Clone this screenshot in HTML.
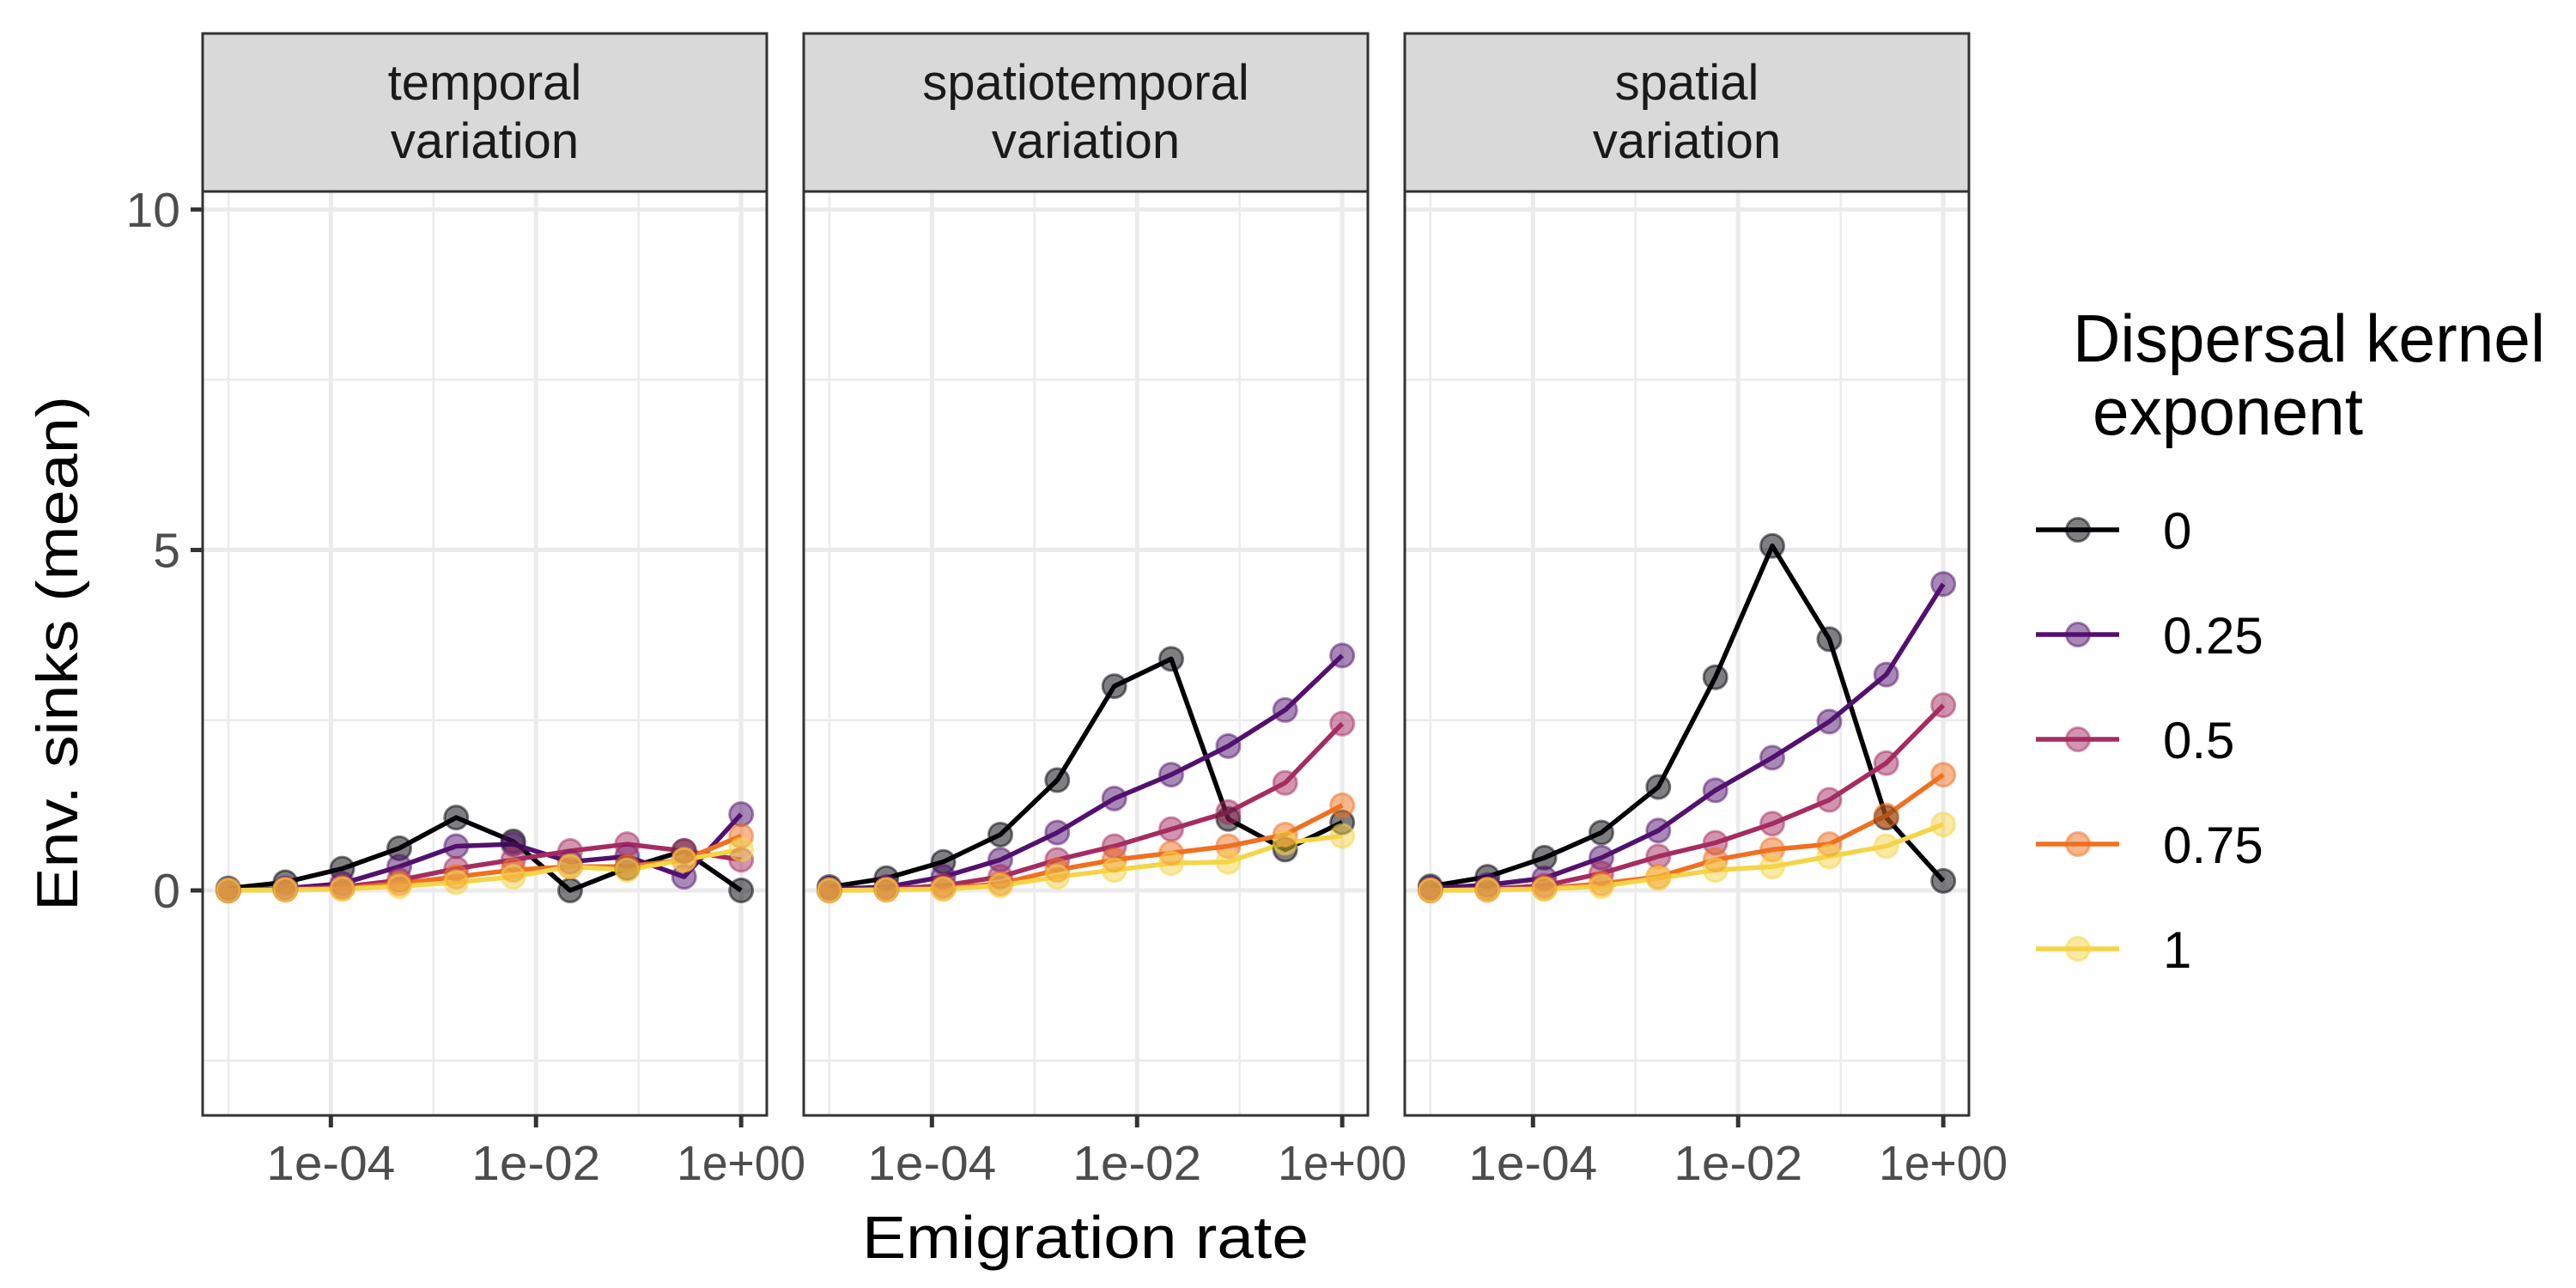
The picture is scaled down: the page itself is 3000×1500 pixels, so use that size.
<!DOCTYPE html>
<html><head><meta charset="utf-8"><style>
html,body{margin:0;padding:0;background:#fff;}
svg{display:block;font-family:"Liberation Sans",sans-serif;}
</style></head><body>
<svg id="chart" width="3000" height="1500" viewBox="0 0 3000 1500" xmlns="http://www.w3.org/2000/svg">
<rect width="3000" height="1500" fill="#fff"/>
<g id="panels"></g>
<text x="1264" y="1465" font-size="70" text-anchor="middle" textLength="520" lengthAdjust="spacingAndGlyphs" fill="#000">Emigration rate</text>
<text transform="translate(90,761) rotate(-90)" font-size="68" text-anchor="middle" textLength="600" lengthAdjust="spacingAndGlyphs" fill="#000">Env. sinks (mean)</text>
<g id="legend">
<text x="2414" y="421" font-size="78" textLength="550" lengthAdjust="spacingAndGlyphs" fill="#000">Dispersal kernel</text>
<text x="2437" y="506" font-size="78" textLength="315" lengthAdjust="spacingAndGlyphs" fill="#000">exponent</text>
</g>
</svg>
<script>
const NS = "http://www.w3.org/2000/svg";
const facets = ["temporal|variation", "spatiotemporal|variation", "spatial|variation"];
const seriesNames = ["0", "0.25", "0.5", "0.75", "1"];
const emigrationExp = [-5, -4.444, -3.889, -3.333, -2.778, -2.222, -1.667, -1.111, -0.556, 0];
const yTicks = [0, 5, 10];
const yMinor = [-2.5, 2.5, 7.5];
const xTickExp = [-4, -2, 0];
const xTickLabels = ["1e-04", "1e-02", "1e+00"];
const xMinorExp = [-5, -3, -1];
const temporal0 = [0.03, 0.12, 0.32, 0.62, 1.07, 0.72, 0.0, 0.33, 0.58, 0.0];
const temporal1 = [0, 0.03, 0.1, 0.35, 0.65, 0.68, 0.42, 0.5, 0.2, 1.12];
const temporal2 = [0, 0.02, 0.05, 0.15, 0.32, 0.45, 0.58, 0.68, 0.58, 0.45];
const temporal3 = [0, 0.01, 0.03, 0.1, 0.2, 0.3, 0.35, 0.35, 0.45, 0.8];
const temporal4 = [0, 0.01, 0.02, 0.06, 0.12, 0.2, 0.35, 0.3, 0.45, 0.6];
const spatiotemporal0 = [0.05, 0.18, 0.42, 0.82, 1.62, 3.0, 3.4, 1.05, 0.6, 1.0];
const spatiotemporal1 = [0.02, 0.05, 0.2, 0.45, 0.85, 1.35, 1.7, 2.12, 2.65, 3.45];
const spatiotemporal2 = [0, 0.02, 0.07, 0.2, 0.45, 0.65, 0.9, 1.15, 1.58, 2.45];
const spatiotemporal3 = [0, 0.01, 0.03, 0.1, 0.3, 0.45, 0.55, 0.65, 0.82, 1.25];
const spatiotemporal4 = [0, 0.01, 0.02, 0.07, 0.2, 0.3, 0.4, 0.42, 0.7, 0.8];
const spatial0 = [0.06, 0.2, 0.48, 0.85, 1.52, 3.13, 5.06, 3.69, 1.07, 0.14];
const spatial1 = [0.03, 0.08, 0.18, 0.48, 0.88, 1.47, 1.95, 2.48, 3.17, 4.5];
const spatial2 = [0, 0.02, 0.07, 0.25, 0.5, 0.7, 0.98, 1.33, 1.87, 2.72];
const spatial3 = [0, 0.01, 0.03, 0.1, 0.2, 0.45, 0.6, 0.68, 1.1, 1.7];
const spatial4 = [0, 0.01, 0.02, 0.06, 0.18, 0.3, 0.35, 0.5, 0.65, 0.97];
const facetData = [
  [temporal0, temporal1, temporal2, temporal3, temporal4],
  [spatiotemporal0, spatiotemporal1, spatiotemporal2, spatiotemporal3, spatiotemporal4],
  [spatial0, spatial1, spatial2, spatial3, spatial4]
];
const colors = ["#000004", "#52116e", "#a52c60", "#f07020", "#f5d447"];

const panelLefts = [236, 936, 1636], PW = 657, PT = 223, PB = 1299, STRIP_TOP = 39;
const Y0 = 1037, YU = 79.3;
function yScale(v) { return Y0 - v * YU; }
function xScale(e, L) { const dec = PW / 5.5; return L + dec * 0.25 + (e + 5) * dec; }
function mk(tag, attrs, parent) { const el = document.createElementNS(NS, tag); for (const k in attrs) el.setAttribute(k, attrs[k]); parent.appendChild(el); return el; }

const panelsG = document.getElementById("panels");
facets.forEach((f, fi) => {
  const L = panelLefts[fi];
  const g = mk("g", {}, panelsG);
  
  
  const bg = mk("rect", { x: L, y: PT, width: PW, height: PB - PT, fill: "#fff" }, g);
  
  
  yMinor.forEach(v => { const l = mk("line", { x1: L, x2: L + PW, y1: yScale(v), y2: yScale(v), stroke: "#ebebeb", "stroke-width": 2.5 }, g);
      });
  xMinorExp.forEach(e => { const l = mk("line", { x1: xScale(e, L), x2: xScale(e, L), y1: PT, y2: PB, stroke: "#ebebeb", "stroke-width": 2.5 }, g);
      });
  yTicks.forEach(v => { const l = mk("line", { x1: L, x2: L + PW, y1: yScale(v), y2: yScale(v), stroke: "#ebebeb", "stroke-width": 5 }, g);
      });
  xTickExp.forEach((e, i) => {
    const x = xScale(e, L);
    const l = mk("line", { x1: x, x2: x, y1: PT, y2: PB, stroke: "#ebebeb", "stroke-width": 5 }, g);
     
    const t = mk("line", { x1: x, x2: x, y1: PB, y2: PB + 14, stroke: "#333", "stroke-width": 5 }, g);
     
    const tx = mk("text", { x: x, y: 1374, "font-size": 57, "text-anchor": "middle", fill: "#4d4d4d", textLength: 150, lengthAdjust: "spacingAndGlyphs" }, g);
    tx.textContent = xTickLabels[i];
     
  });
  facetData[fi].forEach((vals, si) => {
    const pts = vals.map((v, i) => xScale(emigrationExp[i], L) + "," + yScale(v)).join(" ");
    const pl = mk("polyline", { points: pts, fill: "none", stroke: colors[si], "stroke-width": 5.5, "stroke-linejoin": "round" }, g);
    
    
  });
  facetData[fi].forEach((vals, si) => {
    vals.forEach((v, i) => {
      const c = mk("circle", { cx: xScale(emigrationExp[i], L), cy: yScale(v), r: 13.5, fill: colors[si], "fill-opacity": 0.5, stroke: colors[si], "stroke-opacity": 0.5, "stroke-width": 3 }, g);
      
      
    });
  });
  const border = mk("rect", { x: L, y: PT, width: PW, height: PB - PT, fill: "none", stroke: "#333", "stroke-width": 3 }, g);
   
  const strip = mk("rect", { x: L, y: STRIP_TOP, width: PW, height: PT - STRIP_TOP, fill: "#d9d9d9", stroke: "#333", "stroke-width": 3 }, g);
   
  f.split("|").forEach((line, li) => {
    const t = mk("text", { x: L + PW / 2, y: 116 + li * 68, "font-size": 58, "text-anchor": "middle", fill: "#1a1a1a" }, g);
    t.textContent = line;
     
  });
});
yTicks.forEach(v => {
  const t = mk("line", { x1: 222, x2: 236, y1: yScale(v), y2: yScale(v), stroke: "#333", "stroke-width": 5 }, panelsG);
   
  const tx = mk("text", { x: 210, y: yScale(v) + 20, "font-size": 57, "text-anchor": "end", fill: "#4d4d4d" }, panelsG);
  tx.textContent = String(v);
   
});
const legend = document.getElementById("legend");
seriesNames.forEach((s, si) => {
  const y = 617 + si * 122;
  const g = mk("g", {}, legend);
  
  
  mk("line", { x1: 2371, x2: 2468, y1: y, y2: y, stroke: colors[si], "stroke-width": 5.5 }, g);
  mk("circle", { cx: 2420, cy: y, r: 13.5, fill: colors[si], "fill-opacity": 0.5, stroke: colors[si], "stroke-opacity": 0.5, "stroke-width": 3 }, g);
  const t = mk("text", { x: 2519, y: y + 22, "font-size": 60, fill: "#000" }, g);
  t.textContent = s;
});
</script>
</body></html>
